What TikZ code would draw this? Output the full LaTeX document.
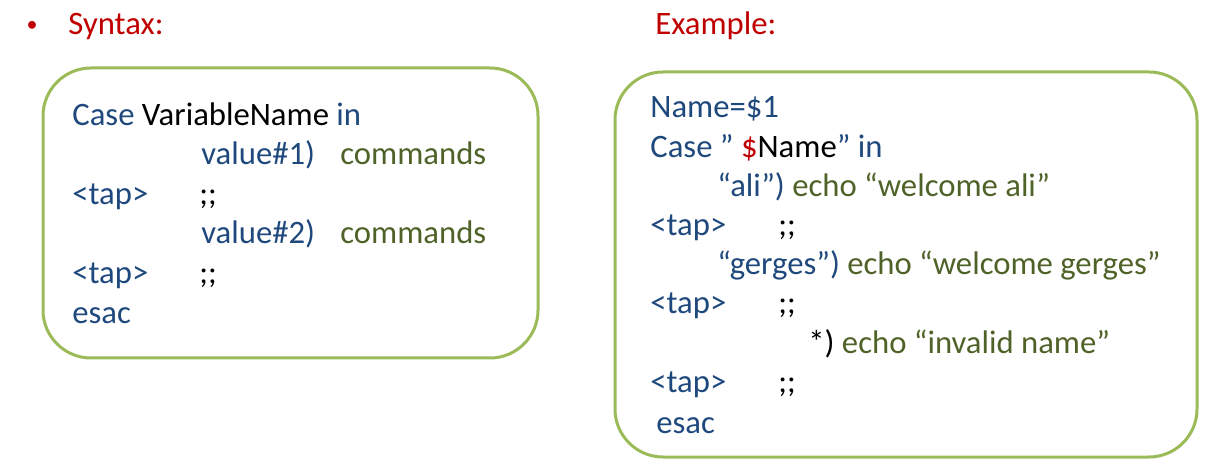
\documentclass[tikz,border=0pt]{standalone}
\usepackage{fontspec}
\setmainfont{Carlito}
\usepackage{xcolor}
\usepackage{tikz}
\usetikzlibrary{positioning}

\definecolor{codeblue}{HTML}{1F497D}
\definecolor{codegreen}{HTML}{4F6228}
\definecolor{titlered}{HTML}{C00000}
\definecolor{boxgreen}{HTML}{9BBB59}

\begin{document}
\begin{tikzpicture}[
    x=0.5pt, y=-0.5pt,
    codebox/.style={draw=boxgreen, line width=1.5pt, rounded corners=24pt},
    code/.style={anchor=base west, inner sep=0pt, font=\fontsize{16.35}{19}\selectfont, text=codeblue},
    cmd/.style={code, text=codegreen},
    semi/.style={code, text=black},
    title/.style={code, text=titlered}
]
\useasboundingbox (0,0) rectangle (1207,465);

% Titles
\node[title, anchor=base, font=\fontsize{11}{13}\selectfont] (bullet) at (32,32) {•};
\node[title] (syntaxtitle) at (68,35) {Syntax:};
\node[title] (exampletitle) at (655,35) {Example:};

% Syntax box
\draw[codebox] (43,68) rectangle (538,358);
\node[code] (case) at (72,126) {Case \textcolor{black}{VariableName} in};
\node[code] (value1) at (201,165) {value\#1)};
\node[cmd] (cmd1) at (340,165) {commands};
\node[code] (value2) at (201,244) {value\#2)};
\node[cmd] (cmd2) at (340,244) {commands};
\foreach \y/\n in {205/1,284/2} {
    \node[code] (tap\n) at (72,\y) {<tap>};
    \node[semi] (semi\n) at (199,\y) {;;};
}
\node[code] (esac) at (72,323) {esac};

% Example box
\draw[codebox] (615,72) rectangle (1197,457);
\node[code] (assign) at (650,118) {Name=\$1};
\node[code] (excase) at (650,158) {Case ” \textcolor{titlered}{\$}\textcolor{black}{Name}” in};
\node[code] (ali) at (717,197) {“ali”) \textcolor{codegreen}{echo “welcome ali”}};
\node[code] (gerges) at (717,275) {“gerges”) \textcolor{codegreen}{echo “welcome gerges”}};
\node[semi] (other) at (808,353) {*) \textcolor{codegreen}{echo “invalid name”}};
\foreach \y/\n in {236/1,314/2,393/3} {
    \node[code] (extap\n) at (650,\y) {<tap>};
    \node[semi] (exsemi\n) at (778,\y) {;;};
}
\node[code] (exesac) at (656,433) {esac};

\end{tikzpicture}
\end{document}
